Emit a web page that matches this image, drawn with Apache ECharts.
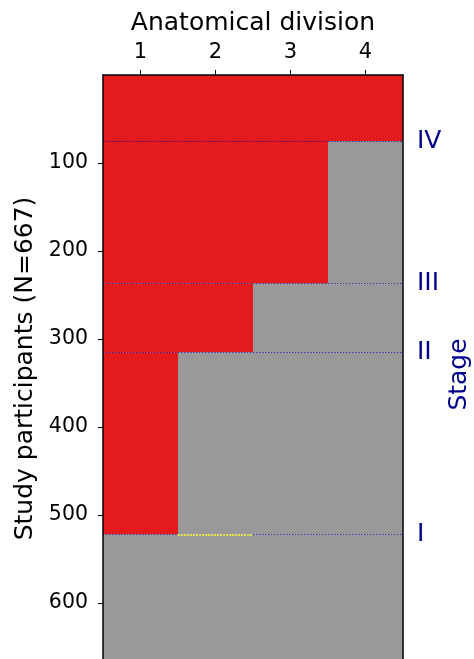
<!DOCTYPE html>
<html>
<head>
<meta charset="utf-8">
<script src="https://cdn.jsdelivr.net/npm/echarts@6/dist/echarts.min.js"></script>
<style>html,body{margin:0;padding:0;background:#fff;}#chart{width:474px;height:659px;}</style>
</head>
<body>
<div id="chart"></div>
<script>
const divisions = [1, 2, 3, 4];
const yTicks = [100, 200, 300, 400, 500, 600];
const nParticipants = 667;
const bandStart = [0, 75, 237, 315, 522];
const bandEnd = [75, 237, 315, 522, 667];
const redDivisions = [4, 3, 2, 1, 0];
const stageNames = ['IV', 'III', 'II', 'I'];
const stageBoundaries = [75, 237, 315, 522];
const yellowSegment = [[1.5, 522], [2.5, 522]];

const FONT = 'DejaVu Sans';
const NAVY = '#00008b';
const RED = '#e41a1c';
const GRAY = '#999999';

const bands = bandStart.map((s, i) => [s, bandEnd[i], redDivisions[i]]);

const markData = stageBoundaries.map((y, i) => ({
  yAxis: y,
  label: { show: true, formatter: stageNames[i] }
}));
markData.push([
  { coord: yellowSegment[0], lineStyle: { color: '#ffff33', type: [2, 1], width: 1.5 }, label: { show: false } },
  { coord: yellowSegment[1] }
]);

const chart = echarts.init(document.getElementById('chart'), null, { renderer: 'canvas' });
chart.setOption({
  animation: false,
  textStyle: { fontFamily: FONT },
  grid: { left: 103, top: 75, width: 300, height: 587, containLabel: false, outerBoundsMode: 'none' },
  xAxis: {
    type: 'value', position: 'top', min: 0.5, max: 4.5, z: 10,
    name: 'Anatomical division', nameLocation: 'middle', nameGap: 39,
    nameTextStyle: { fontFamily: FONT, fontSize: 25, color: '#000' },
    axisLine: { show: true, onZero: false, lineStyle: { color: '#000', width: 1.5 } },
    axisTick: { show: true, length: 5, customValues: divisions, lineStyle: { color: '#000' } },
    axisLabel: { customValues: divisions, fontFamily: FONT, fontSize: 21, color: '#000', margin: 12 },
    splitLine: { show: false }
  },
  yAxis: [{
    type: 'value', inverse: true, min: 0, max: nParticipants, z: 10,
    name: 'Study participants (N=667)', nameLocation: 'middle', nameGap: 56, nameRotate: 90,
    nameTextStyle: { fontFamily: FONT, fontSize: 25, color: '#000' },
    axisLine: { show: true, onZero: false, lineStyle: { color: '#000', width: 1.5 } },
    axisTick: { show: true, length: 5, customValues: yTicks, lineStyle: { color: '#000' } },
    axisLabel: { customValues: yTicks, fontFamily: FONT, fontSize: 20.5, color: '#000', margin: 15 },
    splitLine: { show: false }
  }, {
    type: 'value', position: 'right', inverse: true, min: 0, max: nParticipants, z: 10,
    name: 'Stage', nameLocation: 'middle', nameGap: 44, nameRotate: 90,
    nameTextStyle: { fontFamily: FONT, fontSize: 25, color: NAVY, padding: [0, 12, 0, 0] },
    axisLine: { show: true, onZero: false, lineStyle: { color: '#000', width: 1.5 } },
    axisTick: { show: false }, axisLabel: { show: false }, splitLine: { show: false }
  }],
  series: [{
    type: 'custom',
    silent: true,
    clip: true,
    data: bands,
    renderItem: function (params, api) {
      const y0 = api.value(0), y1 = api.value(1), nr = api.value(2);
      const children = [];
      const pTop = api.coord([0.5, y0]);
      const pBot = api.coord([4.5, y1]);
      const pSplit = api.coord([nr + 0.5, y0]);
      if (nr > 0) {
        children.push({ type: 'rect', shape: { x: pTop[0], y: pTop[1], width: pSplit[0] - pTop[0], height: pBot[1] - pTop[1] }, style: { fill: RED } });
      }
      if (nr < 4) {
        children.push({ type: 'rect', shape: { x: pSplit[0], y: pTop[1], width: pBot[0] - pSplit[0], height: pBot[1] - pTop[1] }, style: { fill: GRAY } });
      }
      return { type: 'group', children: children };
    },
    markLine: {
      silent: true, symbol: 'none', animation: false,
      lineStyle: { color: 'rgba(0,0,160,0.7)', type: [1.5, 1.5], width: 1 },
      label: { show: true, position: 'end', distance: 14, fontFamily: FONT, fontSize: 25, color: NAVY },
      data: markData
    }
  }]
});
</script>
</body>
</html>
